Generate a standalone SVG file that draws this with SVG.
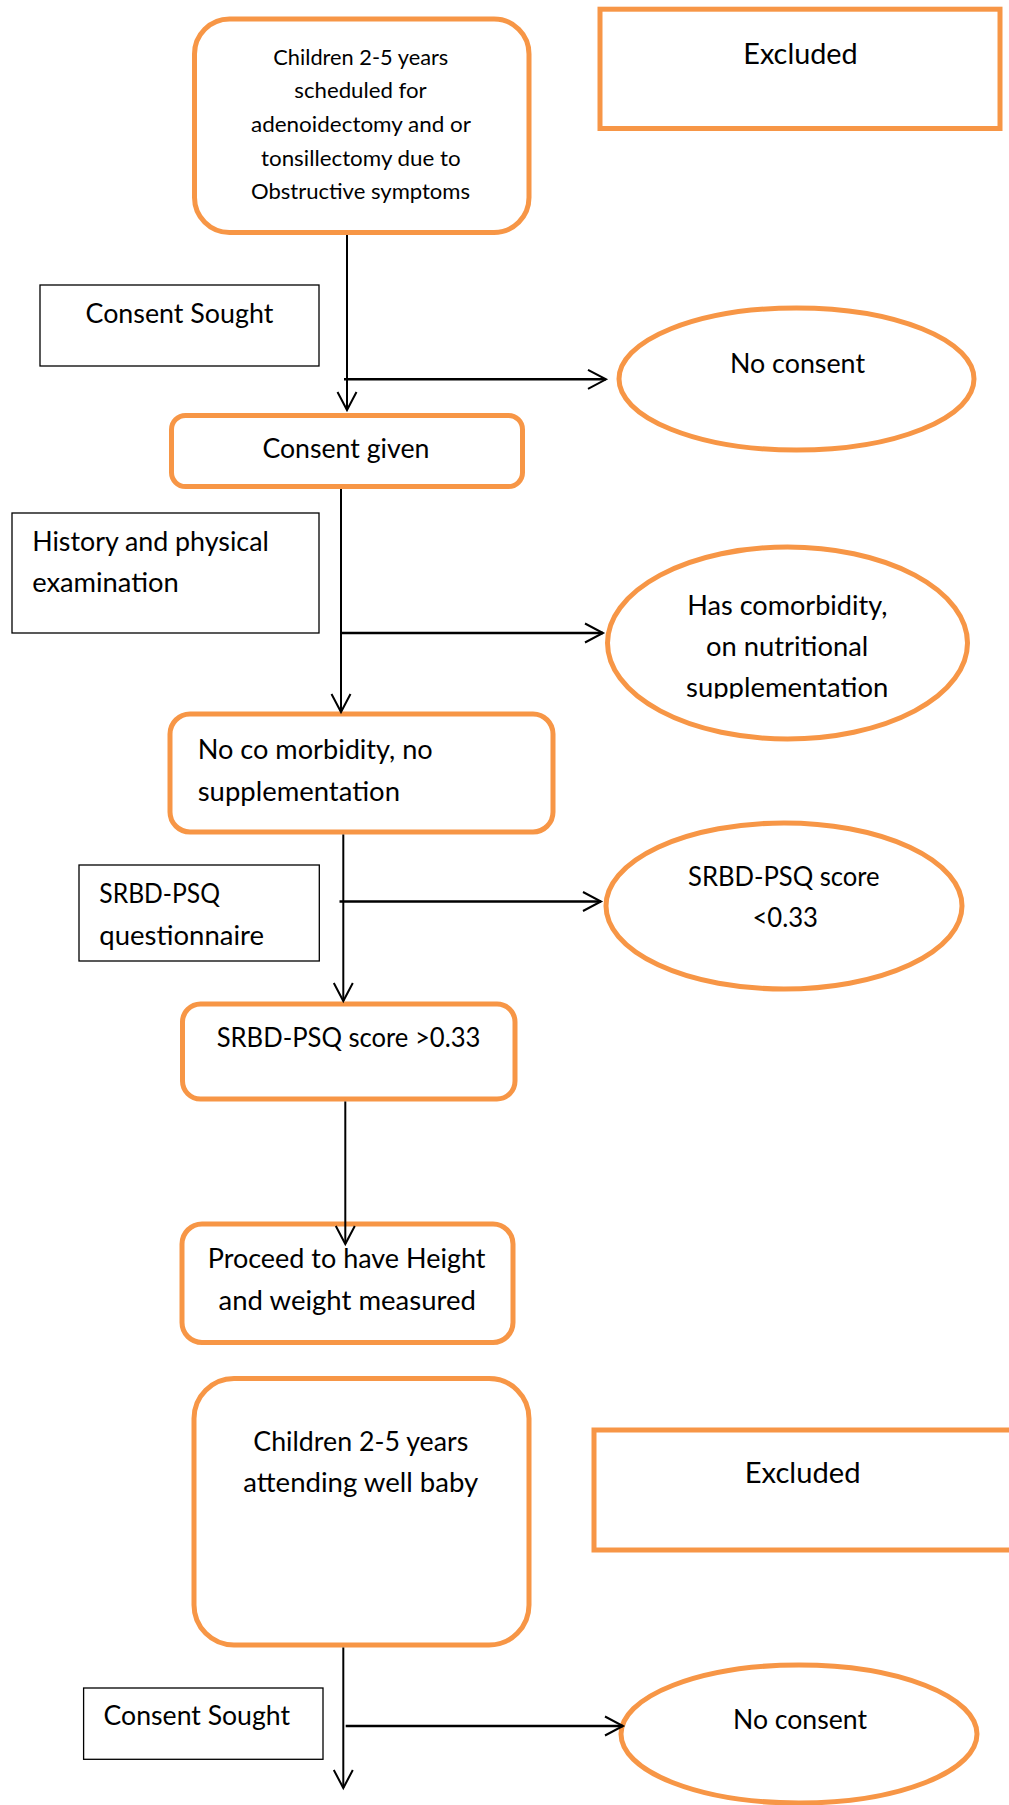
<svg xmlns="http://www.w3.org/2000/svg" width="1009" height="1805" viewBox="0 0 1009 1805">
<style>
.o{fill:#fff;stroke:#F79646;stroke-width:5}
.k{fill:#fff;stroke:#000;stroke-width:1.3}
.t{font-family:Lato,"Liberation Sans",sans-serif;font-size:27px;fill:#000}
.s{font-size:22px}
.x{font-size:28.5px}
.v{fill:none;stroke:#000;stroke-width:2}
.h{fill:none;stroke:#000;stroke-width:2.6}
</style>
<defs>
<marker id="arr" markerUnits="userSpaceOnUse" viewBox="-20 -12 22 24" refX="0" refY="0" markerWidth="22" markerHeight="24" orient="auto" overflow="visible">
<path d="M-18,-9.5 L0,0 L-18,9.5" fill="none" stroke="#000" stroke-width="2"/>
</marker>
<clipPath id="clipSupp"><rect x="600" y="540" width="380" height="158.5"/></clipPath>
</defs>

<g id="n-children-scheduled">
<rect class="o" x="194.5" y="19" width="334.5" height="213.5" rx="35"/>
<text class="t s" x="273.3" y="65" textLength="175" lengthAdjust="spacingAndGlyphs">Children 2-5 years</text>
<text class="t s" x="294.3" y="98.3" textLength="132.4" lengthAdjust="spacingAndGlyphs">scheduled for</text>
<text class="t s" x="251" y="131.7" textLength="220" lengthAdjust="spacingAndGlyphs">adenoidectomy and or</text>
<text class="t s" x="261" y="166" textLength="199.7" lengthAdjust="spacingAndGlyphs">tonsillectomy due to</text>
<text class="t s" x="251" y="199.3" textLength="219" lengthAdjust="spacingAndGlyphs">Obstructive symptoms</text>
</g>

<g id="n-excluded-1">
<rect class="o" x="600" y="9.2" width="400" height="119.3"/>
<text class="t x" x="743.3" y="64" textLength="114.4" lengthAdjust="spacingAndGlyphs">Excluded</text>
</g>

<g id="n-consent-sought-1">
<rect class="k" x="40" y="285" width="279" height="81"/>
<text class="t" x="85.5" y="323.2" textLength="187.8" lengthAdjust="spacingAndGlyphs">Consent Sought</text>
</g>

<g id="n-no-consent-1">
<ellipse class="o" cx="796.5" cy="379" rx="177.5" ry="71"/>
<text class="t" x="730" y="372.7" textLength="135" lengthAdjust="spacingAndGlyphs">No consent</text>
</g>

<g id="n-consent-given">
<rect class="o" x="171.5" y="415.5" width="351" height="71" rx="14"/>
<text class="t" x="262.4" y="458.3" textLength="167" lengthAdjust="spacingAndGlyphs">Consent given</text>
</g>

<g id="n-history">
<rect class="k" x="12" y="513" width="307" height="120"/>
<text class="t" x="32.2" y="550.7" textLength="236.6" lengthAdjust="spacingAndGlyphs">History and physical</text>
<text class="t" x="32.2" y="592.3" textLength="146.6" lengthAdjust="spacingAndGlyphs">examination</text>
</g>

<g id="n-has-comorbidity">
<ellipse class="o" cx="787.5" cy="643" rx="180" ry="96"/>
<text class="t" x="687.3" y="615" textLength="200" lengthAdjust="spacingAndGlyphs">Has comorbidity,</text>
<text class="t" x="706" y="655.7" textLength="162.3" lengthAdjust="spacingAndGlyphs">on nutritional</text>
<text class="t" x="686" y="696.7" textLength="202.3" lengthAdjust="spacingAndGlyphs" clip-path="url(#clipSupp)">supplementation</text>
</g>

<g id="n-no-comorbidity">
<rect class="o" x="170" y="714" width="383" height="118" rx="20"/>
<text class="t" x="197.7" y="759.3" textLength="235" lengthAdjust="spacingAndGlyphs">No co morbidity, no</text>
<text class="t" x="197.7" y="800.7" textLength="202.3" lengthAdjust="spacingAndGlyphs">supplementation</text>
</g>

<g id="n-srbd-questionnaire">
<rect class="k" x="79" y="865" width="240.3" height="96"/>
<text class="t" x="99.3" y="902.7" textLength="120.7" lengthAdjust="spacingAndGlyphs">SRBD-PSQ</text>
<text class="t" x="99.3" y="945" textLength="164.7" lengthAdjust="spacingAndGlyphs">questionnaire</text>
</g>

<g id="n-srbd-low">
<ellipse class="o" cx="784" cy="906" rx="178" ry="83"/>
<text class="t" x="688" y="885.7" textLength="191.6" lengthAdjust="spacingAndGlyphs">SRBD-PSQ score</text>
<text class="t" x="752.4" y="926.7" textLength="65.6" lengthAdjust="spacingAndGlyphs">&lt;0.33</text>
</g>

<g id="n-srbd-high">
<rect class="o" x="182.5" y="1004" width="332.5" height="95" rx="18"/>
<text class="t" x="216.7" y="1047.3" textLength="263.7" lengthAdjust="spacingAndGlyphs">SRBD-PSQ score &gt;0.33</text>
</g>

<g id="n-proceed">
<rect class="o" x="182" y="1224" width="331" height="118.5" rx="20"/>
<text class="t" x="207.7" y="1268.3" textLength="277.8" lengthAdjust="spacingAndGlyphs">Proceed to have Height</text>
<text class="t" x="218.6" y="1310" textLength="257.3" lengthAdjust="spacingAndGlyphs">and weight measured</text>
</g>

<g id="n-children-wellbaby">
<rect class="o" x="194" y="1378.5" width="335" height="266.5" rx="40"/>
<text class="t" x="253.3" y="1451" textLength="215" lengthAdjust="spacingAndGlyphs">Children 2-5 years</text>
<text class="t" x="243.3" y="1491.7" textLength="235" lengthAdjust="spacingAndGlyphs">attending well baby</text>
</g>

<g id="n-excluded-2">
<rect class="o" x="594" y="1430" width="425" height="120"/>
<text class="t x" x="744.7" y="1483.3" textLength="115.8" lengthAdjust="spacingAndGlyphs">Excluded</text>
</g>

<g id="n-consent-sought-2">
<rect class="k" x="83.6" y="1688" width="239.4" height="71.3"/>
<text class="t" x="103.6" y="1725" textLength="186.4" lengthAdjust="spacingAndGlyphs">Consent Sought</text>
</g>

<g id="n-no-consent-2">
<ellipse class="o" cx="799" cy="1734" rx="178" ry="69"/>
<text class="t" x="733" y="1729.3" textLength="134" lengthAdjust="spacingAndGlyphs">No consent</text>
</g>

<g id="connectors">
<line class="v" x1="347" y1="235" x2="347" y2="410" marker-end="url(#arr)"/>
<line class="h" x1="344" y1="379.3" x2="606" y2="379.3" marker-end="url(#arr)"/>
<line class="v" x1="341" y1="489" x2="341" y2="712" marker-end="url(#arr)"/>
<line class="h" x1="341" y1="633" x2="603" y2="633" marker-end="url(#arr)"/>
<line class="v" x1="343.3" y1="834.5" x2="343.3" y2="1001" marker-end="url(#arr)"/>
<line class="h" x1="339.5" y1="901.5" x2="601" y2="901.5" marker-end="url(#arr)"/>
<line class="v" x1="345.3" y1="1101.5" x2="345.3" y2="1244" marker-end="url(#arr)"/>
<line class="v" x1="343.3" y1="1647.5" x2="343.3" y2="1788" marker-end="url(#arr)"/>
<line class="h" x1="345.7" y1="1726" x2="623" y2="1726" marker-end="url(#arr)"/>
</g>
</svg>
